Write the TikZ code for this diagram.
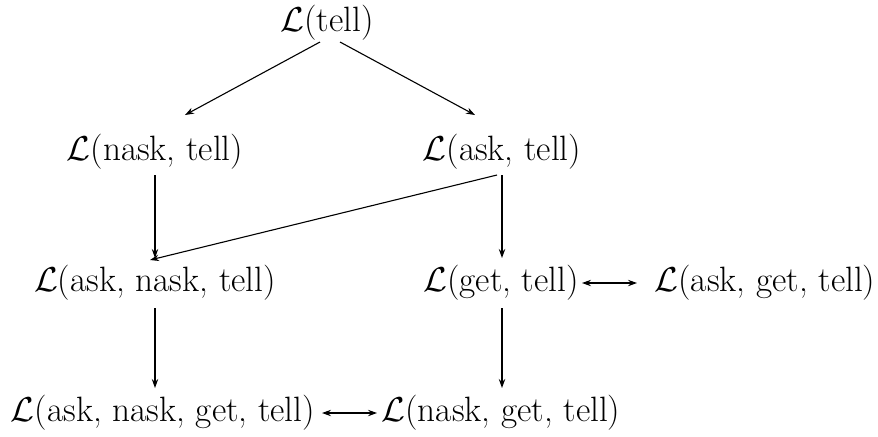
\documentclass[tikz,border=0pt]{standalone}
\usetikzlibrary{arrows.meta,calc}
\begin{document}
\begin{tikzpicture}[x=0.5pt,y=-0.5pt,
  lbl/.style={inner sep=0pt,font=\fontsize{17.6}{21}\selectfont},
  arr/.style={-{Stealth[length=4.5pt,width=3.2pt]},line width=0.55pt},
  darr/.style={{Stealth[length=4.5pt,width=3.2pt]}-{Stealth[length=4.5pt,width=3.2pt]},line width=0.55pt},
  thick arr/.style={arr,line width=0.85pt}]
\useasboundingbox (0,0) rectangle (878,436);
\node[lbl] (t) at (327,23) {$\mathcal{L}$(tell)};
\node[lbl] (nt) at (155,152) {$\mathcal{L}$(nask, tell)};
\node[lbl] (at) at (502,152) {$\mathcal{L}$(ask, tell)};
\node[lbl] (ant) at (155,283) {$\mathcal{L}$(ask, nask, tell)};
\node[lbl] (gt) at (501,283) {$\mathcal{L}$(get, tell)};
\node[lbl] (agt) at (765,283) {$\mathcal{L}$(ask, get, tell)};
\node[lbl] (angt) at (163,413) {$\mathcal{L}$(ask, nask, get, tell)};
\node[lbl] (ngt) at (501,413) {$\mathcal{L}$(nask, get, tell)};
\draw[arr] ($(t)+(-7,19)$) -- ($(nt)+(30,-37)$);
\draw[arr] ($(t)+(13,19)$) -- ($(at)+(-27,-37)$);
\draw[arr] ($(nt)+(0,23)$) -- ($(ant)+(0,-25)$);
\draw[arr] ($(at)+(-5,23)$) -- ($(ant)+(-5,-23)$);
\draw[thick arr] ($(at)+(0,23)$) -- ($(gt)+(1,-25)$);
\draw[arr] ($(ant)+(0,25)$) -- ($(angt)+(-8,-25)$);
\draw[thick arr] ($(gt)+(1,25)$) -- ($(ngt)+(1,-25)$);
\draw[darr] ($(gt)+(81,0)$) -- ($(agt)+(-128,0)$);
\draw[darr] ($(angt)+(159,0)$) -- ($(ngt)+(-124,0)$);
\end{tikzpicture}
\end{document}
